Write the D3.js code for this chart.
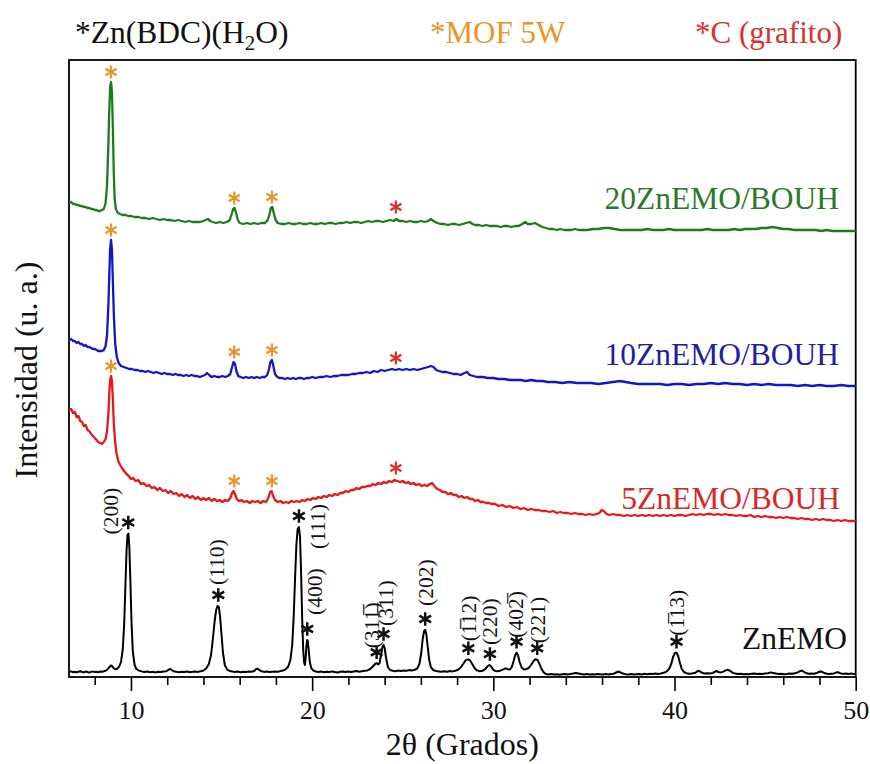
<!DOCTYPE html>
<html>
<head>
<meta charset="utf-8">
<script src="https://cdn.jsdelivr.net/npm/d3@7"></script>
<style>
  html, body { margin: 0; padding: 0; background: #fff; }
  svg { display: block; }
  text { font-family: "Liberation Serif", "Times New Roman", serif; }
</style>
</head>
<body>
<svg id="chart" width="870" height="764"></svg>
<script>
// ---- data: 2θ (degrees) vs intensity (a.u., traces stacked with offsets) ----
const xTicksMajor = [10, 20, 30, 40, 50];
const xTicksMinor = [8, 12, 14, 16, 18, 22, 24, 26, 28, 32, 34, 36, 38, 42, 44, 46, 48];

const znemo = [[6.58,5],[6.7,5.6],[6.8,4.8],[6.9,5.3],[7.0,4.6],[7.1,5.2],[7.2,5.8],[7.3,5.0],[7.4,4.6],[7.5,5.4],[7.6,5.0],[7.7,4.4],[7.8,5.1],[7.9,5.6],[8.0,4.9],[8.1,5.3],[8.2,4.7],[8.3,5.5],[8.4,5.2],[8.5,5.8],[8.6,6.2],[8.7,7.5],[8.8,9.8],[8.9,11.5],[8.97,10.8],[9.05,8.6],[9.15,7.8],[9.25,8.5],[9.35,10.5],[9.45,15],[9.55,28],[9.63,55],[9.7,95],[9.76,128],[9.81,142],[9.86,143.5],[9.91,130],[9.97,95],[10.03,55],[10.1,26],[10.2,12],[10.3,8],[10.45,6.4],[10.6,5.6],[10.75,5.0],[10.9,5.5],[11.05,4.8],[11.2,5.2],[11.35,4.6],[11.5,5.3],[11.65,4.9],[11.8,5.5],[11.95,5.8],[12.05,6.8],[12.15,8.2],[12.25,7.0],[12.35,5.8],[12.5,5.2],[12.65,4.7],[12.8,5.3],[12.95,4.9],[13.1,5.4],[13.25,4.8],[13.4,5.2],[13.55,5.6],[13.7,5.1],[13.85,5.8],[14.0,6.5],[14.15,8.5],[14.3,13],[14.42,22],[14.52,38],[14.62,56],[14.7,67],[14.78,71],[14.85,70],[14.92,60],[15.0,42],[15.08,24],[15.18,12],[15.3,7.6],[15.45,6.0],[15.6,5.4],[15.75,5.0],[15.9,5.5],[16.05,4.8],[16.2,5.2],[16.35,4.9],[16.5,5.4],[16.65,5.2],[16.8,6.0],[16.9,7.8],[16.98,8.4],[17.08,7.0],[17.2,5.8],[17.35,5.1],[17.5,5.5],[17.65,4.9],[17.8,5.3],[17.95,5.6],[18.1,5.2],[18.25,5.9],[18.4,6.4],[18.55,7.8],[18.68,10.5],[18.8,17],[18.9,32],[18.98,60],[19.06,100],[19.13,132],[19.2,148],[19.27,150],[19.33,140],[19.39,105],[19.45,58],[19.51,26],[19.56,14],[19.6,12],[19.64,18],[19.68,30],[19.72,37],[19.76,36],[19.81,27],[19.87,15],[19.95,9],[20.05,6.6],[20.2,5.4],[20.35,5.0],[20.5,5.5],[20.65,4.8],[20.8,5.3],[20.95,4.9],[21.1,5.6],[21.25,5.0],[21.4,4.6],[21.55,5.2],[21.7,5.6],[21.85,5.0],[22.0,5.4],[22.15,4.9],[22.3,5.5],[22.45,5.9],[22.6,5.3],[22.75,5.8],[22.9,6.2],[23.05,6.6],[23.2,8],[23.35,10.5],[23.47,13],[23.56,13.8],[23.65,12.6],[23.72,14],[23.8,22],[23.88,30],[23.94,32],[24.0,29],[24.08,19],[24.18,10],[24.3,7],[24.45,6.2],[24.6,5.8],[24.75,6.4],[24.9,6.0],[25.05,6.6],[25.2,6.2],[25.35,6.9],[25.5,6.4],[25.65,7.2],[25.8,8.5],[25.92,13],[26.02,24],[26.1,38],[26.18,46],[26.24,47],[26.3,43],[26.38,30],[26.46,17],[26.56,9.5],[26.7,6.8],[26.85,6.0],[27.0,5.6],[27.15,5.2],[27.3,5.8],[27.45,5.3],[27.6,6.0],[27.75,5.6],[27.9,6.3],[28.05,7.2],[28.2,9.5],[28.35,13.5],[28.48,16.8],[28.6,17.7],[28.72,16.5],[28.85,12.5],[28.98,8.6],[29.1,6.6],[29.25,5.8],[29.4,6.2],[29.55,7.8],[29.67,10.5],[29.78,12],[29.88,10.5],[29.98,7.6],[30.1,6.0],[30.25,5.8],[30.4,6.4],[30.55,7.6],[30.68,8.7],[30.8,7.8],[30.92,7.6],[31.02,10],[31.12,16],[31.2,21.5],[31.28,24.3],[31.36,22],[31.45,15],[31.56,9.5],[31.68,7.6],[31.8,7.8],[31.95,9],[32.08,12],[32.2,15.5],[32.32,17.7],[32.44,17],[32.55,13],[32.66,8],[32.78,4.6],[32.9,3.0],[33.05,2.6],[33.2,3.0],[33.35,2.4],[33.5,2.8],[33.65,2.2],[33.8,2.7],[33.95,3.1],[34.1,2.6],[34.25,2.9],[34.4,3.4],[34.55,4.0],[34.7,3.6],[34.85,3.0],[35.0,2.6],[35.15,3.0],[35.3,2.4],[35.45,2.8],[35.6,2.5],[35.75,3.0],[35.9,2.7],[36.05,2.5],[36.2,2.9],[36.35,2.6],[36.5,3.0],[36.65,3.3],[36.78,4.5],[36.9,5.5],[37.02,4.6],[37.15,3.4],[37.3,2.8],[37.45,2.5],[37.6,2.9],[37.75,2.4],[37.9,2.7],[38.05,3.0],[38.2,2.6],[38.35,3.2],[38.5,2.8],[38.65,3.3],[38.8,2.9],[38.95,3.4],[39.1,3.1],[39.25,3.6],[39.4,4.2],[39.55,5.4],[39.7,8],[39.82,13],[39.92,20],[40.02,24],[40.11,24.3],[40.2,21],[40.3,14],[40.4,8],[40.52,5],[40.65,3.8],[40.8,3.2],[40.95,3.5],[41.1,3.9],[41.2,4.8],[41.3,6.2],[41.4,5.6],[41.52,4.2],[41.65,3.5],[41.8,3.8],[41.95,3.4],[42.1,4.0],[42.22,5.2],[42.32,6.0],[42.42,5.0],[42.55,4.6],[42.7,5.4],[42.82,6.6],[42.95,7.2],[43.08,6.0],[43.2,4.4],[43.35,3.4],[43.5,3.0],[43.65,3.3],[43.8,2.8],[43.95,3.1],[44.1,2.7],[44.25,3.2],[44.4,3.5],[44.55,2.9],[44.7,3.3],[44.85,3.0],[45.0,3.4],[45.15,3.8],[45.3,4.6],[45.45,4.0],[45.6,3.4],[45.75,3.0],[45.9,3.3],[46.05,2.8],[46.2,3.1],[46.35,3.5],[46.5,3.2],[46.65,3.8],[46.8,4.6],[46.92,5.8],[47.02,6.4],[47.12,5.4],[47.25,4.0],[47.4,3.2],[47.55,3.6],[47.7,3.2],[47.85,4.0],[47.98,5.2],[48.08,5.6],[48.2,4.6],[48.35,3.4],[48.5,3.0],[48.65,3.3],[48.8,3.6],[48.92,4.4],[49.02,4.8],[49.14,3.8],[49.3,3.1],[49.45,3.5],[49.6,3.0],[49.75,3.4],[49.9,3.0],[50.0,3.2]];

const bouh5 = [[6.58,266],[6.7,268],[6.8,264],[6.9,265],[7.0,260],[7.1,261],[7.2,256],[7.3,255],[7.4,251],[7.5,252],[7.6,247],[7.7,246],[7.8,243],[7.9,241],[8.0,239],[8.1,237],[8.2,235],[8.3,234],[8.4,233],[8.5,235],[8.6,238],[8.68,246],[8.75,262],[8.8,282],[8.85,297],[8.9,301],[8.95,296],[9.0,278],[9.05,255],[9.12,236],[9.2,224],[9.3,216],[9.4,212],[9.5,209],[9.62,206],[9.75,203],[9.88,201],[10.0,198],[10.12,199],[10.25,196],[10.4,197],[10.55,193],[10.7,194],[10.85,191],[11.0,192],[11.15,189],[11.3,190],[11.45,187],[11.6,189],[11.75,186],[11.9,187],[12.05,184],[12.2,186],[12.35,183],[12.5,184],[12.65,181],[12.8,183],[12.95,180],[13.1,182],[13.25,179],[13.4,181],[13.55,178],[13.7,180],[13.85,177],[14.0,179],[14.15,177],[14.3,179],[14.45,176],[14.6,178],[14.75,176],[14.9,177],[15.05,175],[15.2,177],[15.35,176],[15.48,179],[15.58,184],[15.66,186],[15.74,183],[15.84,178],[15.95,176],[16.1,177],[16.25,175],[16.4,176],[16.55,174],[16.7,176],[16.85,175],[17.0,176],[17.15,174],[17.3,176],[17.45,175],[17.58,179],[17.68,185],[17.76,186],[17.85,181],[17.95,177],[18.1,175],[18.25,176],[18.4,174],[18.55,175],[18.7,174],[18.85,176],[19.0,175],[19.15,176],[19.3,175],[19.45,177],[19.6,176],[19.75,178],[19.9,177],[20.05,179],[20.2,178],[20.35,180],[20.5,179],[20.65,181],[20.8,180],[20.95,182],[21.1,181],[21.25,183],[21.4,182],[21.55,184],[21.7,184],[21.85,186],[22.0,185],[22.15,187],[22.3,187],[22.45,189],[22.6,188],[22.75,190],[22.9,190],[23.05,191],[23.2,191],[23.35,193],[23.5,192],[23.65,194],[23.8,193],[23.95,195],[24.1,194],[24.25,196],[24.4,195],[24.55,197],[24.7,196],[24.85,195],[25.0,196],[25.15,194],[25.3,195],[25.45,193],[25.6,194],[25.75,192],[25.9,193],[26.05,191],[26.2,192],[26.35,191],[26.5,193],[26.62,194],[26.75,191],[26.9,188],[27.05,187],[27.2,185],[27.35,185],[27.5,183],[27.65,184],[27.8,182],[27.95,182],[28.1,180],[28.25,181],[28.4,179],[28.55,180],[28.7,178],[28.85,178],[29.0,176],[29.15,177],[29.3,175],[29.45,175],[29.6,174],[29.75,174],[29.9,173],[30.1,173],[30.3,171],[30.5,172],[30.7,170],[30.9,171],[31.1,169],[31.3,170],[31.5,168],[31.7,169],[31.9,167],[32.1,168],[32.3,167],[32.5,167],[32.7,166],[32.9,166],[33.1,165],[33.3,166],[33.5,164],[33.7,165],[33.9,164],[34.1,164],[34.3,163],[34.5,164],[34.7,163],[34.9,163],[35.1,162],[35.3,163],[35.5,162],[35.7,163],[35.85,164],[35.98,167],[36.1,166],[36.25,163],[36.4,162],[36.6,163],[36.8,162],[37.0,162],[37.2,161],[37.4,162],[37.6,161],[37.8,162],[38.0,161],[38.2,162],[38.4,161],[38.6,162],[38.8,161],[39.0,162],[39.2,161],[39.4,162],[39.6,161],[39.8,162],[40.0,161],[40.2,162],[40.4,162],[40.6,161],[40.8,162],[41.0,163],[41.2,162],[41.4,163],[41.6,162],[41.8,163],[42.0,163],[42.2,162],[42.4,163],[42.6,162],[42.8,163],[43.0,162],[43.2,162],[43.4,161],[43.6,162],[43.8,161],[44.0,161],[44.2,162],[44.4,160],[44.6,161],[44.8,160],[45.0,161],[45.2,160],[45.4,160],[45.6,159],[45.8,160],[46.0,159],[46.2,160],[46.4,159],[46.6,159],[46.8,158],[47.0,159],[47.2,158],[47.4,158],[47.6,157],[47.8,158],[48.0,157],[48.2,158],[48.4,157],[48.6,157],[48.8,156],[49.0,157],[49.2,156],[49.4,157],[49.6,156],[49.8,156],[50.0,156]];

const bouh10 = [[6.58,337],[6.7,338],[6.8,336],[6.9,336],[7.0,334],[7.1,335],[7.2,333],[7.3,333],[7.4,331],[7.5,332],[7.6,330],[7.7,330],[7.8,329],[7.9,328],[8.0,328],[8.1,327],[8.2,326],[8.3,326],[8.4,326],[8.5,327],[8.6,331],[8.68,342],[8.75,370],[8.8,400],[8.85,428],[8.9,437],[8.95,428],[9.0,396],[9.06,360],[9.13,333],[9.22,320],[9.32,314],[9.45,311],[9.6,310],[9.75,309],[9.9,308],[10.05,308],[10.2,307],[10.35,307],[10.5,306],[10.65,306],[10.8,305],[10.95,306],[11.1,305],[11.25,304],[11.4,305],[11.55,304],[11.7,303],[11.85,304],[12.0,303],[12.15,303],[12.3,302],[12.45,303],[12.6,302],[12.75,302],[12.9,301],[13.05,302],[13.2,301],[13.35,302],[13.5,301],[13.65,301],[13.8,300],[13.95,301],[14.08,302],[14.2,304],[14.32,302],[14.45,300],[14.6,301],[14.75,300],[14.9,300],[15.05,301],[15.2,300],[15.35,301],[15.48,303],[15.58,310],[15.66,315],[15.74,313],[15.82,306],[15.92,301],[16.05,300],[16.2,299],[16.35,300],[16.5,299],[16.65,300],[16.8,299],[16.95,300],[17.1,299],[17.25,300],[17.4,300],[17.52,302],[17.62,308],[17.7,315],[17.78,317],[17.86,311],[17.95,303],[18.08,300],[18.2,299],[18.35,299],[18.5,298],[18.65,299],[18.8,298],[18.95,299],[19.1,298],[19.25,299],[19.4,299],[19.55,298],[19.7,299],[19.85,299],[20.0,300],[20.2,299],[20.4,300],[20.6,300],[20.8,301],[21.0,300],[21.2,301],[21.4,301],[21.6,302],[21.8,302],[22.0,302],[22.2,303],[22.4,303],[22.6,304],[22.8,304],[23.0,305],[23.2,304],[23.4,306],[23.6,305],[23.8,307],[24.0,306],[24.2,307],[24.4,308],[24.6,307],[24.8,308],[25.0,307],[25.2,308],[25.4,307],[25.6,308],[25.8,307],[26.0,308],[26.2,309],[26.4,310],[26.55,311],[26.7,310],[26.85,307],[27.0,306],[27.2,305],[27.4,305],[27.6,304],[27.8,303],[28.0,303],[28.2,302],[28.4,304],[28.55,305],[28.7,302],[28.9,301],[29.1,300],[29.4,300],[29.7,299],[30.0,299],[30.3,298],[30.6,298],[30.9,297],[31.2,297],[31.5,297],[31.8,296],[32.1,297],[32.4,296],[32.7,296],[33.0,295],[33.4,295],[33.8,294],[34.2,295],[34.6,294],[35.0,294],[35.4,294],[35.8,293],[36.2,294],[36.6,295],[37.0,296],[37.3,295],[37.6,294],[38.0,293],[38.4,293],[38.8,293],[39.2,293],[39.6,292],[40.0,293],[40.4,293],[40.8,292],[41.2,293],[41.6,293],[42.0,294],[42.4,293],[42.8,294],[43.2,293],[43.6,293],[44.0,292],[44.4,293],[44.8,292],[45.2,293],[45.6,292],[46.0,292],[46.4,292],[46.8,291],[47.2,292],[47.6,291],[48.0,292],[48.4,291],[48.8,291],[49.2,292],[49.6,291],[50.0,291]];

const bouh20 = [[6.58,474],[6.7,475],[6.8,473],[6.9,473],[7.0,472],[7.1,472],[7.2,471],[7.3,471],[7.4,470],[7.5,470],[7.6,469],[7.7,469],[7.8,468],[7.9,468],[8.0,467],[8.1,467],[8.2,466],[8.3,466],[8.4,467],[8.5,468],[8.6,474],[8.68,492],[8.74,525],[8.8,565],[8.85,590],[8.9,595],[8.95,585],[9.0,550],[9.05,505],[9.1,478],[9.17,468],[9.28,464],[9.4,463],[9.55,462],[9.7,462],[9.85,461],[10.0,461],[10.2,460],[10.4,460],[10.6,459],[10.8,459],[11.0,458],[11.2,459],[11.4,458],[11.6,457],[11.8,458],[12.0,457],[12.2,457],[12.4,456],[12.6,457],[12.8,456],[13.0,455],[13.2,456],[13.4,455],[13.6,455],[13.8,455],[14.0,456],[14.12,457],[14.25,458],[14.38,456],[14.5,455],[14.7,454],[14.9,455],[15.1,454],[15.3,455],[15.45,457],[15.56,463],[15.64,468],[15.72,469],[15.8,464],[15.9,457],[16.0,454],[16.2,453],[16.4,454],[16.6,453],[16.8,454],[17.0,453],[17.2,454],[17.4,454],[17.55,457],[17.65,463],[17.72,469],[17.8,470],[17.88,464],[17.98,457],[18.1,454],[18.3,453],[18.5,453],[18.7,454],[18.9,453],[19.1,453],[19.3,454],[19.5,453],[19.7,453],[19.9,454],[20.1,453],[20.3,453],[20.5,454],[20.7,453],[20.9,454],[21.1,454],[21.3,453],[21.5,454],[21.7,454],[21.9,455],[22.1,454],[22.3,455],[22.5,455],[22.7,454],[22.9,455],[23.1,456],[23.3,455],[23.5,456],[23.7,456],[23.9,455],[24.1,456],[24.3,457],[24.5,456],[24.65,458],[24.8,456],[25.0,456],[25.2,455],[25.4,456],[25.6,455],[25.8,455],[26.0,456],[26.2,455],[26.4,456],[26.55,458],[26.7,456],[26.9,454],[27.1,453],[27.3,453],[27.5,452],[27.7,453],[27.9,453],[28.1,452],[28.3,453],[28.5,454],[28.7,455],[28.85,453],[29.0,452],[29.2,452],[29.4,451],[29.6,452],[29.8,451],[30.0,451],[30.2,451],[30.4,450],[30.6,451],[30.8,451],[31.0,450],[31.2,451],[31.4,451],[31.6,453],[31.75,455],[31.9,453],[32.1,453],[32.3,454],[32.5,452],[32.7,450],[32.9,449],[33.1,448],[33.3,448],[33.5,447],[33.7,448],[33.9,447],[34.1,447],[34.3,447],[34.5,448],[34.7,447],[34.9,447],[35.2,447],[35.5,448],[35.8,448],[36.1,449],[36.4,449],[36.7,448],[37.0,447],[37.3,447],[37.6,447],[37.9,447],[38.2,447],[38.5,448],[38.8,447],[39.1,447],[39.4,447],[39.7,448],[40.0,447],[40.3,447],[40.6,447],[40.9,447],[41.2,447],[41.5,447],[41.8,448],[42.1,447],[42.4,447],[42.7,447],[43.0,447],[43.3,448],[43.6,447],[43.9,448],[44.2,448],[44.5,448],[44.8,449],[45.1,449],[45.4,450],[45.7,449],[46.0,448],[46.3,448],[46.6,447],[46.9,447],[47.2,447],[47.5,447],[47.8,447],[48.1,446],[48.4,447],[48.7,446],[49.0,446],[49.3,446],[49.6,446],[50.0,446]];

// sample names and their curves
const sampleNames = ["ZnEMO", "5ZnEMO/BOUH", "10ZnEMO/BOUH", "20ZnEMO/BOUH"];
const sampleCurves = [znemo, bouh5, bouh10, bouh20];

// indexed reflections of Zn(BDC)(H2O) in ZnEMO
const hklLabels = ["(200)", "(110)", "(111)", "(400)", "(311\u0305)", "(3\u030511)", "(202)", "(1\u030512)", "(220)", "(402\u0305)", "(221)", "(1\u030513)"];
const hklPeaks  = [9.85, 14.82, 19.27, 19.73, 23.56, 23.94, 26.24, 28.62, 29.81, 31.28, 32.42, 40.11];

// MOF-5W reflections and graphite (002) band marked on the composites
const mofPeaks = [8.9, 15.7, 17.78];
const graphitePeak = [24.62];

const legendItems = ["*Zn(BDC)(H", "*MOF 5W", "*C (grafito)"];

// ---- layout ----
const W = 870, H = 764;
const M = { left: 69, right: 855.7, top: 60, bottom: 677 };
const colors = { "ZnEMO": "#000000", "5ZnEMO/BOUH": "#e31a1a", "10ZnEMO/BOUH": "#1515c4", "20ZnEMO/BOUH": "#1c7c1c" };
const labelColors = { "ZnEMO": "#111111", "5ZnEMO/BOUH": "#d32a2a", "10ZnEMO/BOUH": "#1f1fa3", "20ZnEMO/BOUH": "#2a7a2a" };
const labelBaseline = { "ZnEMO": 649, "5ZnEMO/BOUH": 509, "10ZnEMO/BOUH": 365, "20ZnEMO/BOUH": 209 };
const labelRight = { "ZnEMO": 847, "5ZnEMO/BOUH": 840, "10ZnEMO/BOUH": 839, "20ZnEMO/BOUH": 839 };
const orange = "#e8952c", graphiteRed = "#d8302e";
// hkl label placement relative to its asterisk: [dx, dy of the label's lower end]
const hklOffset = {
  "(200)": [-17, 12], "(110)": [-1, -10], "(111)": [19, 33], "(400)": [8, -14],
  "(311\u0305)": [-5, -4], "(3\u030511)": [2, -8], "(202)": [1, -13], "(1\u030512)": [1, -7],
  "(220)": [0, -9], "(402\u0305)": [-1, -4], "(221)": [1, -5], "(1\u030513)": [0, -6]
};

const svg = d3.select("#chart");
svg.append("rect").attr("width", W).attr("height", H).attr("fill", "#fff");

const x = d3.scaleLinear().domain([6.58, 50]).range([M.left, M.right]);
const y = d3.scaleLinear().domain([0, 617]).range([M.bottom, M.top]);

// frame
svg.append("rect")
  .attr("x", M.left).attr("y", M.top)
  .attr("width", M.right - M.left).attr("height", M.bottom - M.top)
  .attr("fill", "none").attr("stroke", "#000").attr("stroke-width", 1.8);

// bottom axis: major ticks with labels, minor ticks without
const axMajor = svg.append("g").attr("transform", `translate(0,${M.bottom})`)
  .call(d3.axisBottom(x).tickValues(xTicksMajor).tickSize(14).tickPadding(10).tickFormat(d3.format("d")));
axMajor.select(".domain").remove();
axMajor.selectAll("line").attr("stroke", "#000").attr("stroke-width", 1.6);
axMajor.selectAll("text").attr("font-size", 26).attr("fill", "#111");

const axMinor = svg.append("g").attr("transform", `translate(0,${M.bottom})`)
  .call(d3.axisBottom(x).tickValues(xTicksMinor).tickSize(8).tickFormat(""));
axMinor.select(".domain").remove();
axMinor.selectAll("line").attr("stroke", "#000").attr("stroke-width", 1.6);

// axis titles
svg.append("text").attr("x", (M.left + M.right) / 2).attr("y", 755)
  .attr("text-anchor", "middle").attr("font-size", 32).attr("fill", "#111")
  .text("2\u03b8 (Grados)");
svg.append("text").attr("transform", "translate(37,370) rotate(-90)")
  .attr("text-anchor", "middle").attr("font-size", 32).attr("fill", "#111")
  .text("Intensidad (u. a.)");

// traces
const line = d3.line().x(d => x(d[0])).y(d => y(d[1]));
const plot = svg.append("g");
sampleNames.forEach((name, i) => {
  plot.append("path").datum(sampleCurves[i])
    .attr("d", line).attr("fill", "none")
    .attr("stroke", colors[name]).attr("stroke-width", name === "ZnEMO" ? 2.0 : 2.3)
    .attr("stroke-linejoin", "round");
  svg.append("text").attr("x", labelRight[name]).attr("y", labelBaseline[name])
    .attr("text-anchor", "end").attr("font-size", 31.5).attr("fill", labelColors[name])
    .text(name);
});

// local maximum of a curve around a given angle
function peakTop(curve, t, w) {
  return d3.max(curve.filter(d => Math.abs(d[0] - t) <= w), d => d[1]);
}

const star = d3.symbol().type(d3.symbolAsterisk);
function drawStar(px, py, color, size, sw) {
  svg.append("path").attr("d", star.size(size)())
    .attr("transform", `translate(${px},${py})`)
    .attr("fill", "none").attr("stroke", color).attr("stroke-width", sw)
    .attr("stroke-linecap", "butt");
}

// ZnEMO reflections
hklPeaks.forEach((t, i) => {
  const px = x(t), py = y(peakTop(znemo, t, 0.15)) - 11;
  drawStar(px, py, "#111", 130, 2.5);
  const lab = hklLabels[i], off = hklOffset[lab];
  svg.append("text")
    .attr("transform", `translate(${px + off[0]},${py + off[1]}) rotate(-90)`)
    .attr("text-anchor", "start").attr("dominant-baseline", "central")
    .attr("font-size", 21.5).attr("fill", "#111").text(lab);
});

// MOF-5W and graphite marks on each composite
[bouh5, bouh10, bouh20].forEach(curve => {
  mofPeaks.forEach(t => {
    drawStar(x(t), y(peakTop(curve, t, 0.12)) - 10, orange, 115, 2.2);
  });
  graphitePeak.forEach(t => {
    drawStar(x(t), y(peakTop(curve, t, 0.15)) - 12, graphiteRed, 115, 2.2);
  });
});

// legend of phase markers along the top
const leg = svg.append("g");
const t0 = leg.append("text").attr("x", 75).attr("y", 43).attr("font-size", 31.5).attr("fill", "#111");
t0.append("tspan").text(legendItems[0]);
t0.append("tspan").attr("dy", 7).attr("font-size", 21).text("2");
t0.append("tspan").attr("dy", -7).text("O)");
leg.append("text").attr("x", 430).attr("y", 43).attr("font-size", 31).attr("fill", orange).text(legendItems[1]);
leg.append("text").attr("x", 695).attr("y", 43).attr("font-size", 31).attr("fill", graphiteRed).text(legendItems[2]);
</script>
</body>
</html>
